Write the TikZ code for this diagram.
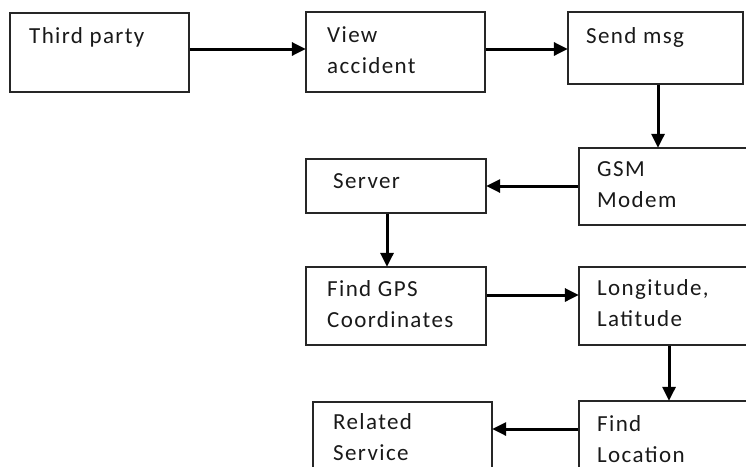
\documentclass[tikz,border=0pt]{standalone}
\usepackage{fontspec}
\setmainfont{Carlito}[LetterSpace=6]
\usetikzlibrary{arrows.meta}
\begin{document}
\begin{tikzpicture}[x=1pt,y=-1pt,
  box/.style={draw=black!85,line width=1.3pt,rectangle,inner sep=0pt},
  lbl/.style={anchor=base west,inner sep=0pt,font=\fontsize{23}{31}\selectfont,text=black!90,align=left},
  arr/.style={draw=black,line width=3pt,-{Triangle[length=14pt,width=13pt]},shorten >=-0.5pt}]
\useasboundingbox (0,0) rectangle (746,466);
\clip (0,0) rectangle (746,466);

% boxes
\node[box,minimum width=179pt,minimum height=79pt] (tp)  at (99.5,52.5) {};
\node[box,minimum width=179pt,minimum height=80pt] (va)  at (395.5,52) {};
\node[box,minimum width=175pt,minimum height=72pt] (sm)  at (655.5,48) {};
\node[box,minimum width=181pt,minimum height=77pt] (gsm) at (669.5,186.5) {};
\node[box,minimum width=180pt,minimum height=54pt] (sv)  at (396,186) {};
\node[box,minimum width=180pt,minimum height=78pt] (gps) at (396,306) {};
\node[box,minimum width=181pt,minimum height=78pt] (ll)  at (669.5,306) {};
\node[box,minimum width=181pt,minimum height=89pt] (fl)  at (669.5,445.5) {};
\node[box,minimum width=179pt,minimum height=88pt] (rs)  at (402.5,446) {};

% labels (placed at the baseline of their last line)
\node[lbl] (tpt)  at (29,43)  {Third party};
\node[lbl] (vat)  at (327,73) {View\\accident};
\node[lbl] (smt)  at (586,43) {Send msg};
\node[lbl] (gsmt) at (597,207) {GSM\\Modem};
\node[lbl] (svt)  at (333,188) {Server};
\node[lbl] (gpst) at (327,327) {Find GPS\\Coordinates};
\node[lbl] (llt)  at (597,326) {Longitude,\\Latitude};
\node[lbl] (flt)  at (597,462) {Find\\Location};
\node[lbl] (rst)  at (333,460) {Related\\Service};

% connectors
\draw[arr] (tp.east |- 0,49)  -- (va.west |- 0,49);
\draw[arr] (va.east |- 0,49)  -- (sm.west |- 0,49);
\draw[arr] (sm.south -| 658,0) -- (gsm.north -| 658,0);
\draw[arr] (gsm.west |- 0,186) -- (sv.east |- 0,186);
\draw[arr] (sv.south -| 387,0) -- (gps.north -| 387,0);
\draw[arr] (gps.east |- 0,295) -- (ll.west |- 0,295);
\draw[arr] (ll.south -| 669,0) -- (fl.north -| 669,0);
\draw[arr] (fl.west |- 0,429) -- (rs.east |- 0,429);
\end{tikzpicture}
\end{document}
